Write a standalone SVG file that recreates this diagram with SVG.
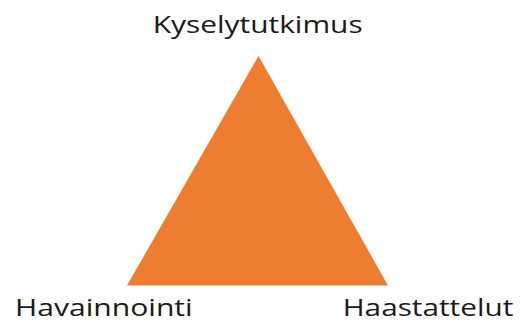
<svg xmlns="http://www.w3.org/2000/svg" width="521" height="322" viewBox="0 0 521 322">
<style>
.lbl{font-family:"Open Sans","Noto Sans","Liberation Sans",sans-serif;font-size:24px;fill:#1a1a1a}
</style>
<rect width="521" height="322" fill="#ffffff"/>
<g id="triangle">
<polygon points="258.5,56 127,285.5 388,285.5" fill="#ED7D31"/>
</g>
<g id="kyselytutkimus">
<text class="lbl" x="152.7" y="33.3" textLength="210" lengthAdjust="spacingAndGlyphs">Kyselytutkimus</text>
</g>
<g id="havainnointi">
<text class="lbl" x="15" y="316" textLength="177.7" lengthAdjust="spacingAndGlyphs">Havainnointi</text>
</g>
<g id="haastattelut">
<text class="lbl" x="342.7" y="316" textLength="170.6" lengthAdjust="spacingAndGlyphs">Haastattelut</text>
</g>
<g id="connectors"></g>
</svg>
